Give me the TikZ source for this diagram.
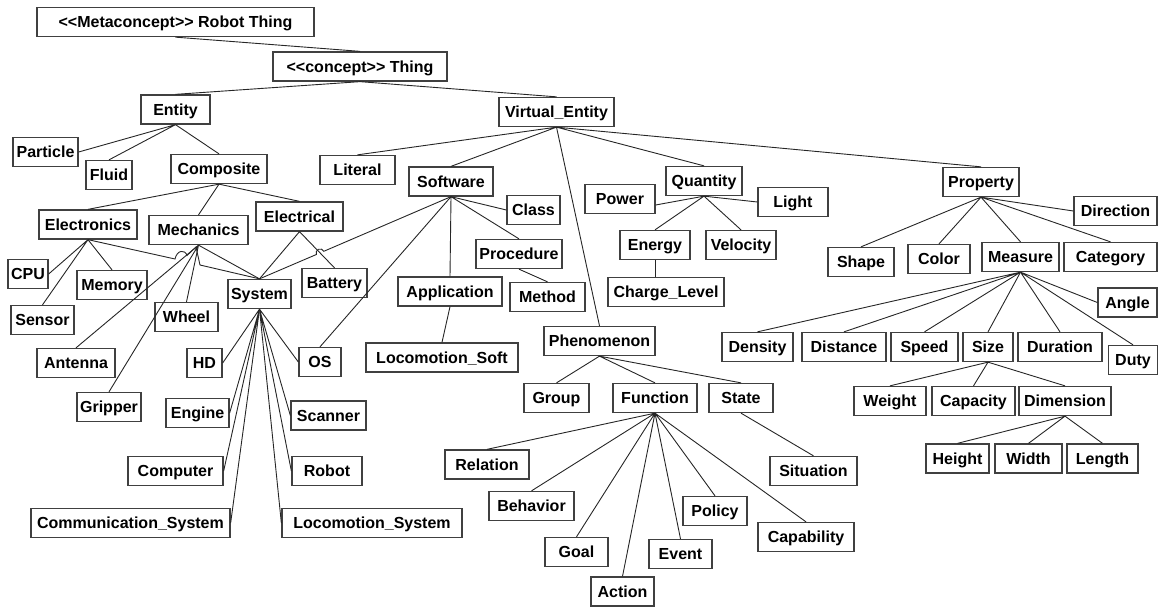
\documentclass[tikz,border=0pt]{standalone}
\usepackage{fontspec}
\setmainfont{Liberation Sans}
\usepackage{tikz}
\usetikzlibrary{calc}

\begin{document}
\begin{tikzpicture}[
    x=1pt, y=-1pt,
    concept/.style={rectangle, draw=black!75, line width=1.3pt, fill=white, minimum height=29, inner sep=0pt, text height=11.5pt, text depth=0pt, font=\fontsize{16}{18}\selectfont\bfseries},
    link/.style={line width=0.9pt, black!85}
]
\useasboundingbox (0,0) rectangle (1159,607);

% Top
\node[concept, minimum width=277] (Meta) at (175.5,22) {<\kern0pt<Metaconcept>\kern0pt> Robot Thing};
\node[concept, minimum width=174] (Thing) at (360,66.5) {<\kern0pt<concept>\kern0pt> Thing};
\node[concept, minimum width=69] (Entity) at (175.5,109.5) {Entity};
\node[concept, minimum width=115] (VirtualEntity) at (556.5,112) {Virtual\_Entity};

% Entity branch
\node[concept, minimum width=65] (Particle) at (45.5,152) {Particle};
\node[concept, minimum width=46] (Fluid) at (109,175) {Fluid};
\node[concept, minimum width=96] (Composite) at (219,169) {Composite};
\node[concept, minimum width=98] (Electronics) at (88,224.5) {Electronics};
\node[concept, minimum width=99] (Mechanics) at (198.5,230) {Mechanics};
\node[concept, minimum width=87] (Electrical) at (299.5,216.5) {Electrical};
\node[concept, minimum width=40] (CPU) at (28,274) {CPU};
\node[concept, minimum width=70] (Memory) at (112,285) {Memory};
\node[concept, minimum width=63] (Sensor) at (42.5,320) {Sensor};
\node[concept, minimum width=63] (Wheel) at (186.5,317) {Wheel};
\node[concept, minimum width=63] (System) at (259.5,294) {System};
\node[concept, minimum width=65] (Battery) at (334.5,283) {Battery};
\node[concept, minimum width=78] (Antenna) at (76,363) {Antenna};
\node[concept, minimum width=35] (HD) at (204.5,363) {HD};
\node[concept, minimum width=42] (OS) at (320,362) {OS};
\node[concept, minimum width=64] (Gripper) at (109,407) {Gripper};
\node[concept, minimum width=63] (Engine) at (197.5,413) {Engine};
\node[concept, minimum width=75] (Scanner) at (328.5,415.5) {Scanner};
\node[concept, minimum width=95] (Computer) at (175.5,471) {Computer};
\node[concept, minimum width=70] (Robot) at (327,471) {Robot};
\node[concept, minimum width=199] (CommSystem) at (130.5,523) {Communication\_System};
\node[concept, minimum width=180] (LocoSystem) at (372,523) {Locomotion\_System};

% Virtual_Entity branch
\node[concept, minimum width=75] (Literal) at (357.5,170) {Literal};
\node[concept, minimum width=84] (Software) at (451,181.5) {Software};
\node[concept, minimum width=53] (Class) at (533.5,210) {Class};
\node[concept, minimum width=86] (Procedure) at (519,254) {Procedure};
\node[concept, minimum width=104] (Application) at (450,291.5) {Application};
\node[concept, minimum width=75] (Method) at (547.5,297) {Method};
\node[concept, minimum width=152] (LocoSoft) at (442,357.5) {Locomotion\_Soft};
\node[concept, minimum width=76] (Quantity) at (704,181) {Quantity};
\node[concept, minimum width=70] (Power) at (620,199) {Power};
\node[concept, minimum width=70] (Light) at (793,202) {Light};
\node[concept, minimum width=70] (Energy) at (655,245) {Energy};
\node[concept, minimum width=70] (Velocity) at (741,245) {Velocity};
\node[concept, minimum width=116] (ChargeLevel) at (666,292) {Charge\_Level};
\node[concept, minimum width=111] (Phenomenon) at (599.5,341) {Phenomenon};
\node[concept, minimum width=65] (Group) at (556.5,398) {Group};
\node[concept, minimum width=84] (Function) at (655,398) {Function};
\node[concept, minimum width=64] (State) at (741,398) {State};
\node[concept, minimum width=84] (Relation) at (487,464.5) {Relation};
\node[concept, minimum width=87] (Situation) at (813.5,471) {Situation};
\node[concept, minimum width=85] (Behavior) at (531.5,506) {Behavior};
\node[concept, minimum width=64] (Policy) at (715,511) {Policy};
\node[concept, minimum width=96] (Capability) at (806,537) {Capability};
\node[concept, minimum width=63] (Goal) at (576.5,552) {Goal};
\node[concept, minimum width=63] (Event) at (680.5,554) {Event};
\node[concept, minimum width=63] (Action) at (622.5,591.5) {Action};

% Property branch
\node[concept, minimum width=76] (Property) at (981,182) {Property};
\node[concept, minimum width=83] (Direction) at (1115.5,211) {Direction};
\node[concept, minimum width=66] (Shape) at (861,262) {Shape};
\node[concept, minimum width=62] (Color) at (939,259) {Color};
\node[concept, minimum width=77] (Measure) at (1020.5,257) {Measure};
\node[concept, minimum width=93] (Category) at (1110.5,257) {Category};
\node[concept, minimum width=59] (Angle) at (1127.5,302.5) {Angle};
\node[concept, minimum width=71] (Density) at (757.5,347) {Density};
\node[concept, minimum width=84] (Distance) at (844,347) {Distance};
\node[concept, minimum width=67] (Speed) at (924.5,347) {Speed};
\node[concept, minimum width=50] (Size) at (988,347) {Size};
\node[concept, minimum width=84] (Duration) at (1060,347) {Duration};
\node[concept, minimum width=49] (Duty) at (1133,360) {Duty};
\node[concept, minimum width=72] (Weight) at (890,401) {Weight};
\node[concept, minimum width=83] (Capacity) at (973.5,401) {Capacity};
\node[concept, minimum width=92] (Dimension) at (1065,401) {Dimension};
\node[concept, minimum width=63] (Height) at (957.5,458.5) {Height};
\node[concept, minimum width=67] (Width) at (1028.5,458.5) {Width};
\node[concept, minimum width=71] (Length) at (1102.5,458.5) {Length};

% Links
\draw[link] (Meta.south) -- (Thing.north);
\draw[link] (Thing.south) -- (Entity.north) (Thing.south) -- (VirtualEntity.north);
\draw[link] (Entity.south) -- (Particle.east) (Entity.south) -- (Fluid.north) (Entity.south) -- (Composite.north);
\draw[link] (Composite.south) -- (Electronics.north) (Composite.south) -- (Mechanics.north) (Composite.south) -- (Electrical.north);
\draw[link] (Electronics.south) -- (CPU.east) (Electronics.south) -- (Sensor.north) (Electronics.south) -- (Memory.north);
\draw[link] (Mechanics.south) -- (Antenna.north) (Mechanics.south) -- (Gripper.north) (Mechanics.south) -- (Wheel.north) (Mechanics.south) -- (System.north);
\draw[link] (Electrical.south) -- (System.north) (Electrical.south) -- (Battery.north);
\draw[link] (System.south) -- (HD.east) (System.south) -- (Engine.east) (System.south) -- (Computer.east) (System.south) -- (CommSystem.east);
\draw[link] (System.south) -- (OS.west) (System.south) -- (Scanner.west) (System.south) -- (Robot.west) (System.south) -- (LocoSystem.west);

% Links with line hops
\coordinate (hopIn) at (175,259);
\coordinate (hopOut) at (187,255.5);
\coordinate (bendA) at (196,247);
\coordinate (bendB) at (200,265);
\draw[link] (Electronics.south) -- (hopIn) .. controls (177,250) and (185,249) .. (hopOut)
    -- (bendA) -- (bendB) -- (System.north);
\coordinate (hopB) at (intersection of Software.south--System.north and Electrical.south--Battery.north);
\draw[link] let \p1=($(System.north)-(Software.south)$), \n1={atan2(\y1,\x1)} in
    (Software.south) -- ($(hopB)!4pt!(Software.south)$)
    arc[start angle=\n1+180, end angle=\n1+360, radius=4pt] -- (System.north);

\draw[link] (VirtualEntity.south) -- (Literal.north) (VirtualEntity.south) -- (Software.north) (VirtualEntity.south) -- (Phenomenon.north);
\draw[link] (VirtualEntity.south) -- (Quantity.north) (VirtualEntity.south) -- (Property.north);
\draw[link] (Software.south) -- (Class.west) (Software.south) -- (Procedure.north) (Software.south) -- (Application.north) (Software.south) -- (OS.north);
\draw[link] (Procedure.south) -- (Method.north);
\draw[link] (Application.south) -- (LocoSoft.north);
\draw[link] (Quantity.south) -- ($(Power.east)+(0,6)$) (Quantity.south) -- (Light.west) (Quantity.south) -- (Energy.north) (Quantity.south) -- (Velocity.north);
\draw[link] (Energy.south) -- (Energy.south |- ChargeLevel.north);
\draw[link] (Phenomenon.south) -- (Group.north) (Phenomenon.south) -- (Function.north) (Phenomenon.south) -- (State.north);
\draw[link] (Function.south) -- (Relation.north) (Function.south) -- (Behavior.north) (Function.south) -- (Goal.north) (Function.south) -- (Action.north);
\draw[link] (Function.south) -- (Event.north) (Function.south) -- (Policy.north) (Function.south) -- (Capability.north);
\draw[link] (State.south) -- (Situation.north);
\draw[link] (Property.south) -- (Shape.north) (Property.south) -- (Color.north) (Property.south) -- (Measure.north) (Property.south) -- (Category.north) (Property.south) -- (Direction.west);
\draw[link] (Measure.south) -- (Density.north) (Measure.south) -- (Distance.north) (Measure.south) -- (Speed.north) (Measure.south) -- (Size.north);
\draw[link] (Measure.south) -- (Duration.north) (Measure.south) -- (Duty.north) (Measure.south) -- (Angle.west);
\draw[link] (Size.south) -- (Weight.north) (Size.south) -- (Capacity.north) (Size.south) -- (Dimension.north);
\draw[link] (Dimension.south) -- (Height.north) (Dimension.south) -- (Width.north) (Dimension.south) -- (Length.north);

\end{tikzpicture}
\end{document}
